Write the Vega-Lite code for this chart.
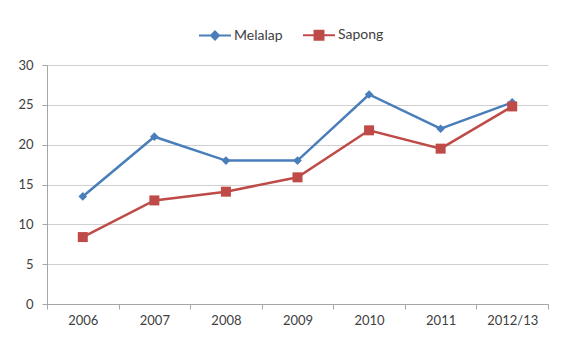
{
  "$schema": "https://vega.github.io/schema/vega-lite/v6.json",
  "width": 501,
  "height": 239,
  "autosize": "none",
  "padding": {"left": 47, "top": 65, "right": 13, "bottom": 34},
  "background": "white",
  "data": {
    "values": [
      {"series": "Melalap", "year": "2006", "value": 13.5},
      {"series": "Melalap", "year": "2007", "value": 21.0},
      {"series": "Melalap", "year": "2008", "value": 18.0},
      {"series": "Melalap", "year": "2009", "value": 18.0},
      {"series": "Melalap", "year": "2010", "value": 26.3},
      {"series": "Melalap", "year": "2011", "value": 22.0},
      {"series": "Melalap", "year": "2012/13", "value": 25.3},
      {"series": "Sapong", "year": "2006", "value": 8.4},
      {"series": "Sapong", "year": "2007", "value": 13.0},
      {"series": "Sapong", "year": "2008", "value": 14.1},
      {"series": "Sapong", "year": "2009", "value": 15.9},
      {"series": "Sapong", "year": "2010", "value": 21.8},
      {"series": "Sapong", "year": "2011", "value": 19.5},
      {"series": "Sapong", "year": "2012/13", "value": 24.8}
    ]
  },
  "encoding": {
    "x": {
      "field": "year", "type": "ordinal", "sort": null,
      "scale": {"paddingInner": 0, "paddingOuter": 0},
      "axis": {"title": null, "labelAngle": 0, "tickBand": "extent", "grid": false,
               "domainColor": "#a6a6a6", "tickColor": "#a6a6a6", "tickSize": 5,
               "labelPadding": 5, "labelFont": "Lato", "labelFontSize": 13, "labelColor": "#404040"}
    },
    "y": {
      "field": "value", "type": "quantitative",
      "scale": {"domain": [0, 30], "nice": false},
      "axis": {"title": null, "values": [0, 5, 10, 15, 20, 25, 30], "grid": true, "gridColor": "#d0d0d0",
               "domainColor": "#a6a6a6", "tickColor": "#a6a6a6", "tickSize": 5, "labelPadding": 9,
               "labelFont": "Lato", "labelFontSize": 13, "labelColor": "#404040"}
    },
    "color": {
      "field": "series", "type": "nominal",
      "scale": {"domain": ["Melalap", "Sapong"], "range": ["#4A7EBB", "#BE4B48"]},
      "legend": {
        "orient": "none", "legendX": 151, "legendY": -47, "direction": "horizontal", "title": null,
        "symbolSize": 1024, "symbolStrokeWidth": 2, "labelFontSize": 14, "labelFont": "Lato",
        "labelColor": "#404040", "columnPadding": 16, "labelOffset": 2,
        "encode": {"symbols": {"update": {
          "shape": {"signal": "datum.value === 'Melalap' ? 'M-1,0H1M0,-0.25L0.25,0L0,0.25L-0.25,0Z' : 'M-1,0H1M-0.28,-0.28H0.28V0.28H-0.28Z'"},
          "fill": {"signal": "scale('color', datum.value)"},
          "stroke": {"signal": "scale('color', datum.value)"},
          "strokeWidth": {"value": 2},
          "size": {"value": 1024},
          "opacity": {"value": 1}
        }}}
      }
    }
  },
  "layer": [
    {
      "mark": {"type": "line", "strokeWidth": 2.5}
    },
    {
      "transform": [{"filter": "datum.series === 'Melalap'"}],
      "mark": {"type": "point", "filled": true, "opacity": 1, "shape": "diamond", "size": 75}
    },
    {
      "transform": [{"filter": "datum.series === 'Sapong'"}],
      "mark": {"type": "point", "filled": true, "opacity": 1, "shape": "square", "size": 100}
    }
  ],
  "config": {"view": {"stroke": null}}
}
